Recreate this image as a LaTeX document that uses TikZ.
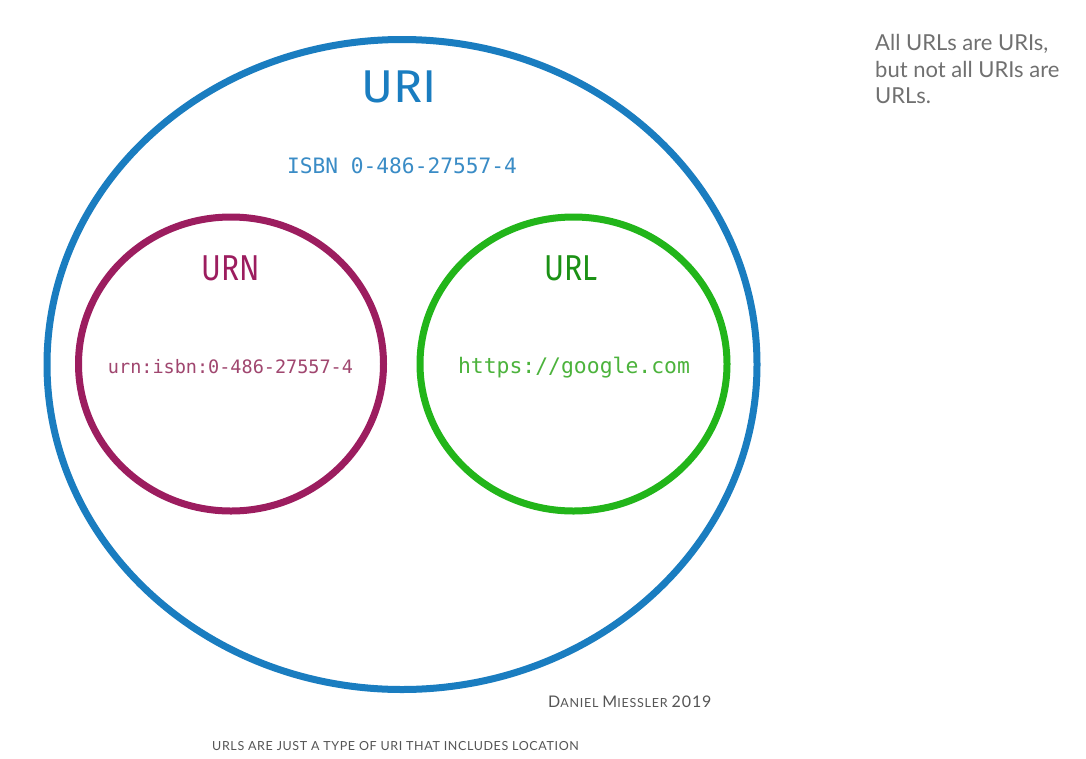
\documentclass[tikz,border=0pt]{standalone}
\usepackage{fontspec}
\setmainfont{Lato}
\newfontfamily\labelfont{Fira Sans}
\newfontfamily\codefont{DejaVu Sans Mono}
\newfontfamily\capfont[LetterSpace=5]{Lato}
\newfontfamily\signfont[LetterSpace=6]{Lato}
\usetikzlibrary{shapes.geometric}
\definecolor{uriblue}{HTML}{1A7DC0}
\definecolor{urnmag}{HTML}{9C1D5F}
\definecolor{urlgreen}{HTML}{22B51A}
\definecolor{isbncol}{HTML}{3A8CC6}
\definecolor{urntext}{HTML}{A0466F}
\definecolor{urltext}{HTML}{4CB33C}
\definecolor{greytext}{HTML}{707070}
\definecolor{darkgrey}{HTML}{555555}
\tikzset{
  ring/.style={draw, ellipse, line width=7pt, inner sep=0pt},
  txt/.style={inner sep=0pt, anchor=base},
}
\begin{document}
\begin{tikzpicture}[x=1pt,y=-1pt]
\path[fill=white] (0,0) rectangle (1086,758);
\useasboundingbox (0,0) rectangle (1086,758);
\node[ring, draw=uriblue, minimum width=710pt, minimum height=650pt] (uri) at (402,364.5) {};
\node[ring, draw=urnmag, minimum width=305pt, minimum height=294pt] (urn) at (231,364) {};
\node[ring, draw=urlgreen, minimum width=307pt, minimum height=294pt] (url) at (573.5,364) {};
\node[txt, text=uriblue, font=\labelfont\fontsize{46}{50}\selectfont] (urilbl) at (399,102) {\scalebox{1.05}[1]{URI}};
\node[txt, text=isbncol, font=\codefont\fontsize{21.2}{24}\selectfont] (isbn) at (402,173) {ISBN 0-486-27557-4};
\node[txt, text=urnmag, font=\labelfont\fontsize{36}{40}\selectfont] (urnlbl) at (230.5,280) {\scalebox{0.83}[1]{URN}};
\node[txt, text=urlgreen!80!black, font=\labelfont\fontsize{36}{40}\selectfont] (urllbl) at (571,280) {\scalebox{0.84}[1]{URL}};
\node[txt, text=urntext, font=\codefont\fontsize{18.5}{22}\selectfont] (urnex) at (230.5,373) {urn:isbn:0-486-27557-4};
\node[txt, text=urltext, font=\codefont\fontsize{21.4}{24}\selectfont] (urlex) at (574,373) {https://google.com};
\node[inner sep=0pt, anchor=north west, align=left, text=greytext, font=\fontsize{22}{26.5}\selectfont] (note) at (875,34.5) {All URLs are URIs,\\but not all URIs are\\URLs.};
\node[inner sep=0pt, anchor=base west, text=darkgrey, font=\signfont\fontsize{16}{18}\selectfont] (sign) at (548,707) {D\fontsize{12.5}{14}\selectfont ANIEL \fontsize{16}{18}\selectfont M\fontsize{12.5}{14}\selectfont IESSLER \fontsize{16}{18}\selectfont 2019};
\node[inner sep=0pt, anchor=base west, text=darkgrey, font=\capfont\fontsize{12.5}{15}\selectfont] (caption) at (212,750) {URLS ARE JUST A TYPE OF URI THAT INCLUDES LOCATION};
\end{tikzpicture}
\end{document}
